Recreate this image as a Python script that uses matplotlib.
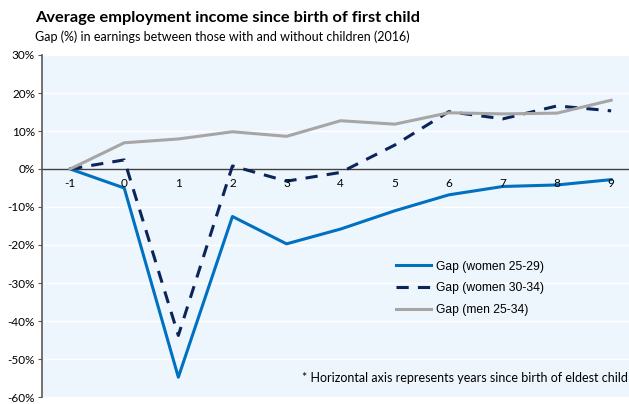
import matplotlib
matplotlib.use("Agg")
import matplotlib.pyplot as plt
from matplotlib.ticker import FuncFormatter

# years since birth of first child
years = [-1, 0, 1, 2, 3, 4, 5, 6, 7, 8, 9]
women_25_29 = [0, -5.0, -54.8, -12.5, -19.7, -15.8, -11.0, -6.8, -4.6, -4.2, -2.8]
women_30_34 = [0, 2.4, -43.8, 0.8, -3.2, -0.9, 6.3, 15.1, 13.2, 16.6, 15.3]
men_25_34 = [0, 6.9, 7.9, 9.8, 8.6, 12.7, 11.8, 14.8, 14.5, 14.7, 18.1]
y_ticks = [30, 20, 10, 0, -10, -20, -30, -40, -50, -60]

BG = '#EEF6FD'
plt.rcParams['font.family'] = ['Lato', 'DejaVu Sans']

fig = plt.figure(figsize=(6.29, 4.04), dpi=100)
ax = fig.add_axes([42 / 629, 7 / 404, 587 / 629, 342 / 404])
ax.set_facecolor(BG)

ax.plot(years, women_25_29, color='#0070C0', lw=2.2, label='Gap (women 25-29)')
ax.plot(years, women_30_34, color='#0B2559', lw=2.2, ls=(0, (4, 3)), label='Gap (women 30-34)')
ax.plot(years, men_25_34, color='#A6A6A6', lw=2.2, label='Gap (men 25-34)')

ax.set_xlim(-1.52, 9.33)
ax.set_ylim(-60, 30)
ax.set_yticks(y_ticks)
ax.yaxis.set_major_formatter(FuncFormatter(lambda v, p: f'{v:.0f}%'))
ax.tick_params(axis='y', labelsize=8.5, length=3, color='#595959', pad=2)
ax.grid(axis='y', color='white', lw=1)
ax.set_axisbelow(True)

# category labels sit just under the zero line
ax.set_xticks([])
for x in years:
    ax.text(x, -2.5, str(x), ha='center', va='top', fontsize=8.5, color='black')
ax.axhline(0, color='#404040', lw=1, zorder=1.5)

for side in ['top', 'right', 'bottom']:
    ax.spines[side].set_visible(False)
ax.spines['left'].set_color('#595959')
ax.spines['left'].set_linewidth(1.2)

leg = ax.legend(loc='lower left', bbox_to_anchor=(0.585, 0.205), frameon=False,
                prop={'family': 'Liberation Sans', 'size': 8.7}, handlelength=2.9,
                labelspacing=0.8, handletextpad=0.4)

ax.text(0.998, 0.055, '* Horizontal axis represents years since birth of eldest child',
        transform=ax.transAxes, ha='right', va='center', fontsize=9)

fig.text(35 / 629, 1 - 18 / 404, 'Average employment income since birth of first child',
         fontsize=11.8, fontweight='bold', va='center')
fig.text(35 / 629, 1 - 37 / 404,
         'Gap (%) in earnings between those with and without children (2016)',
         fontsize=9, va='center')

fig.savefig('out.png', dpi=100)
